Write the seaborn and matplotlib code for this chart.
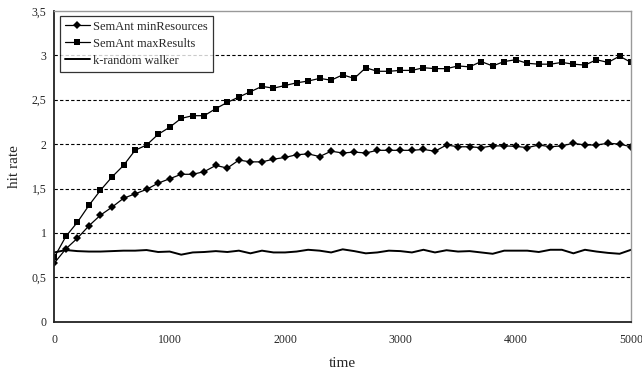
import numpy as np
import pandas as pd
import seaborn as sns
import matplotlib
matplotlib.use("Agg")
import matplotlib.pyplot as plt
from matplotlib.ticker import FuncFormatter, MultipleLocator

time = list(range(0, 5001, 100))

min_resources = [
    0.66, 0.82, 0.94, 1.08, 1.20, 1.29, 1.39, 1.44, 1.49, 1.56,
    1.61, 1.66, 1.66, 1.69, 1.76, 1.73, 1.82, 1.80, 1.80, 1.83,
    1.85, 1.88, 1.89, 1.86, 1.92, 1.90, 1.91, 1.90, 1.93, 1.93,
    1.93, 1.93, 1.94, 1.92, 1.99, 1.97, 1.97, 1.96, 1.98, 1.98,
    1.975, 1.96, 1.99, 1.97, 1.98, 2.01, 1.99, 1.99, 2.01, 2.00,
    1.97,
]

max_results = [
    0.725, 0.96, 1.12, 1.31, 1.48, 1.63, 1.76, 1.93, 1.99, 2.11,
    2.19, 2.29, 2.32, 2.32, 2.40, 2.47, 2.53, 2.59, 2.65, 2.63,
    2.66, 2.69, 2.71, 2.74, 2.72, 2.78, 2.74, 2.86, 2.82, 2.82,
    2.83, 2.83, 2.86, 2.85, 2.85, 2.88, 2.87, 2.93, 2.88, 2.93,
    2.95, 2.91, 2.90, 2.90, 2.92, 2.90, 2.89, 2.95, 2.92, 2.99,
    2.92,
]

random_walker = [
    0.78, 0.807, 0.795, 0.79, 0.79, 0.795, 0.80, 0.80, 0.807, 0.785,
    0.79, 0.755, 0.78, 0.785, 0.795, 0.785, 0.80, 0.77, 0.80, 0.78,
    0.78, 0.79, 0.81, 0.80, 0.78, 0.815, 0.795, 0.77, 0.78, 0.80,
    0.795, 0.78, 0.81, 0.78, 0.805, 0.79, 0.795, 0.78, 0.765, 0.80,
    0.80, 0.80, 0.785, 0.81, 0.81, 0.77, 0.81, 0.79, 0.775, 0.765,
    0.81,
]

series_names = ["SemAnt minResources", "SemAnt maxResults", "k-random walker"]

df = pd.DataFrame({
    "time": time * 3,
    "hit rate": min_resources + max_results + random_walker,
    "series": sum([[n] * len(time) for n in series_names], []),
})

sns.set_style("white")
plt.rcParams["font.family"] = ["Liberation Serif", "DejaVu Serif"]

fig = plt.figure(figsize=(6.42, 3.76), dpi=100)
ax = fig.add_axes([0.0846, 0.1444, 0.8984, 0.8266])

styles = {
    "SemAnt minResources": dict(marker="D", markersize=4.0, linewidth=0.9),
    "SemAnt maxResults": dict(marker="s", markersize=5.0, linewidth=0.9),
    "k-random walker": dict(marker=None, linewidth=1.4),
}

for name in series_names:
    sub = df[df["series"] == name]
    sns.lineplot(data=sub, x="time", y="hit rate", ax=ax, color="black",
                 label=name, markeredgewidth=0, **styles[name])

ax.set_xlim(0, 5000)
ax.set_ylim(0, 3.5)
ax.xaxis.set_major_locator(MultipleLocator(1000))
ax.yaxis.set_major_locator(MultipleLocator(0.5))
ax.yaxis.set_major_formatter(FuncFormatter(
    lambda v, p: ("%g" % v).replace(".", ",")))

for y in np.arange(0.5, 3.01, 0.5):
    ax.axhline(y, color="black", linestyle=(0, (3, 2)), linewidth=0.8, zorder=0)

for side in ("top", "right"):
    ax.spines[side].set_color("#999999")
    ax.spines[side].set_linewidth(1.0)
for side in ("left", "bottom"):
    ax.spines[side].set_color("#222222")
    ax.spines[side].set_linewidth(1.3)

ax.tick_params(axis="both", direction="inout", length=5, width=1.0,
               color="#222222", labelsize=8.5, pad=6)
ax.tick_params(axis="y", pad=3)

ax.set_xlabel("time", fontsize=11, labelpad=8)
ax.set_ylabel("hit rate", fontsize=11, labelpad=8)

leg = ax.legend(loc="upper left", bbox_to_anchor=(0.009, 0.985), fontsize=9,
                frameon=True, fancybox=False, handlelength=2.0,
                handletextpad=0.3, borderpad=0.4, labelspacing=0.4,
                borderaxespad=0)
leg.get_frame().set_edgecolor("black")
leg.get_frame().set_linewidth(0.9)

fig.savefig("out.png", dpi=100)
